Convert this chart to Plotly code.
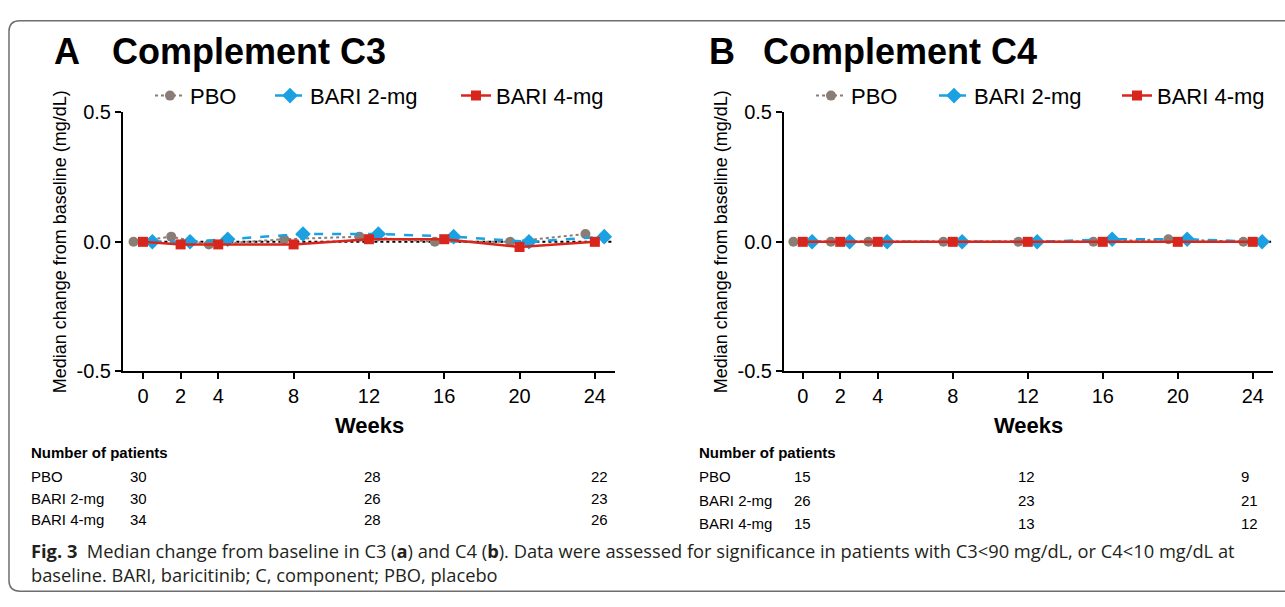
import plotly.graph_objects as go
import numpy as np

# ---------------- data ----------------
weeks = [0, 2, 4, 8, 12, 16, 20, 24]
series_names = ["PBO", "BARI 2-mg", "BARI 4-mg"]

c3_pbo = [0.00, 0.02, -0.01, 0.01, 0.02, 0.00, 0.00, 0.03]
c3_bari2 = [0.00, 0.00, 0.01, 0.03, 0.03, 0.02, 0.00, 0.02]
c3_bari4 = [0.00, -0.01, -0.01, -0.01, 0.01, 0.01, -0.02, 0.00]

c4_pbo = [0.00, 0.00, 0.00, 0.00, 0.00, 0.00, 0.01, 0.00]
c4_bari2 = [0.00, 0.00, 0.00, 0.00, 0.00, 0.01, 0.01, 0.00]
c4_bari4 = [0.00, 0.00, 0.00, 0.00, 0.00, 0.00, 0.00, 0.00]

y_tickvals = [-0.5, 0.0, 0.5]
y_ticktext = ["-0.5", "0.0", "0.5"]

n_weeks = [0, 12, 24]
c3_n = {"PBO": [30, 28, 22], "BARI 2-mg": [30, 26, 23], "BARI 4-mg": [34, 28, 26]}
c4_n = {"PBO": [15, 12, 9], "BARI 2-mg": [26, 23, 21], "BARI 4-mg": [15, 13, 12]}

panel_titles = [("A", "Complement C3"), ("B", "Complement C4")]
y_title = "Median change from baseline (mg/dL)"
x_title = "Weeks"
caption1 = ("<b>Fig. 3</b>  Median change from baseline in C3 (<b>a</b>) and C4 (<b>b</b>). "
            "Data were assessed for significance in patients with C3&lt;90 mg/dL, or C4&lt;10 mg/dL at")
caption2 = "baseline. BARI, baricitinib; C, component; PBO, placebo"

# ---------------- styles / layout ----------------
W, H = 1285, 607
FONT = "Liberation Sans, Arial, sans-serif"
CAP_FONT = "Open Sans, Noto Sans, sans-serif"

styles = {
    "PBO": dict(color="#8a7d75", dash="dot", symbol="circle", size=10, offset=-0.5, lw=2),
    "BARI 2-mg": dict(color="#1ba1e2", dash="dash", symbol="diamond", size=12, offset=0.5, lw=2.5),
    "BARI 4-mg": dict(color="#d9261c", dash="solid", symbol="square", size=10, offset=0.0, lw=2.5),
}

def px_x(p):
    return p / W

def px_y(p):
    return 1 - p / H

fig = go.Figure()

panels = [
    dict(xa="x", ya="y", legends=["legend", "legend2", "legend3"], legend_x=[150, 270, 456],
         data=[c3_pbo, c3_bari2, c3_bari4]),
    dict(xa="x2", ya="y2", legends=["legend4", "legend5", "legend6"], legend_x=[811, 934, 1117],
         data=[c4_pbo, c4_bari2, c4_bari4]),
]

w = np.array(weeks, dtype=float)
legend_layout = {}
for p in panels:
    # zero reference (dotted black)
    fig.add_trace(go.Scatter(
        x=[w.min() + 0.5, w.max() + 1.0], y=[0, 0], mode="lines",
        line=dict(color="black", dash="dot", width=2), showlegend=False,
        hoverinfo="skip", xaxis=p["xa"], yaxis=p["ya"]))
    for name, vals, lg, lx in zip(series_names, p["data"], p["legends"], p["legend_x"]):
        s = styles[name]
        fig.add_trace(go.Scatter(
            x=w + s["offset"], y=vals, name=name, mode="lines+markers",
            line=dict(color=s["color"], dash=s["dash"], width=s["lw"]),
            marker=dict(symbol=s["symbol"], size=s["size"], color=s["color"]),
            cliponaxis=False, legend=lg, xaxis=p["xa"], yaxis=p["ya"]))
        legend_layout[lg] = dict(orientation="h", x=px_x(lx), y=px_y(88), xanchor="left",
                                 yanchor="middle", itemwidth=30, bgcolor="rgba(0,0,0,0)",
                                 font=dict(family=FONT, size=22, color="black"))

axis_common = dict(showgrid=False, zeroline=False, showline=True, linecolor="black",
                   linewidth=2, ticks="outside", ticklen=6, tickwidth=2, tickcolor="black",
                   tickfont=dict(family=FONT, size=20, color="black"))

ydom = [px_y(374), px_y(105)]
fig.update_layout(
    width=W, height=H, margin=dict(l=0, r=0, t=0, b=0),
    paper_bgcolor="white", plot_bgcolor="white",
    font=dict(family=FONT, color="black"),
    xaxis=dict(domain=[px_x(123), px_x(615)], range=[-1.06, 25.07], tickvals=weeks,
               anchor="y", **axis_common),
    yaxis=dict(domain=ydom, range=[-0.5, 0.5], tickvals=y_tickvals, ticktext=y_ticktext,
               anchor="x", **axis_common),
    xaxis2=dict(domain=[px_x(784), px_x(1273)], range=[-1.0, 25.08], tickvals=weeks,
                anchor="y2", **axis_common),
    yaxis2=dict(domain=ydom, range=[-0.5, 0.5], tickvals=y_tickvals, ticktext=y_ticktext,
                anchor="x2", **axis_common),
    **legend_layout,
)

ann = []
# panel titles
title_pos = [(52, 110), (707, 761)]
for (letter, title), (xl, xt) in zip(panel_titles, title_pos):
    ann.append(dict(text=f"<b>{letter}</b>", x=px_x(xl), y=px_y(42), xref="paper", yref="paper",
                    xanchor="left", yanchor="middle", showarrow=False,
                    font=dict(family=FONT, size=36, color="black")))
    ann.append(dict(text=f"<b>{title}</b>", x=px_x(xt), y=px_y(42), xref="paper", yref="paper",
                    xanchor="left", yanchor="middle", showarrow=False,
                    font=dict(family=FONT, size=36, color="black")))

# axis titles
for xc, xcen in [(60, 369), (721, 1028)]:
    ann.append(dict(text=y_title, x=px_x(xc), y=px_y(240), xref="paper", yref="paper",
                    xanchor="center", yanchor="middle", textangle=-90, showarrow=False,
                    font=dict(family=FONT, size=18, color="black")))
    ann.append(dict(text=f"<b>{x_title}</b>", x=px_x(xcen), y=px_y(430), xref="paper", yref="paper",
                    xanchor="center", yanchor="middle", showarrow=False,
                    font=dict(family=FONT, size=22, color="black")))

# number of patients tables (numbers left-aligned near the week columns)
tables = [
    dict(counts=c3_n, xlabel=29, xref="x", rows_y=[483, 506, 528], shifts=[-15, -7, -6]),
    dict(counts=c4_n, xlabel=697, xref="x2", rows_y=[483, 508, 532], shifts=[-11, -12, -14]),
]
for t in tables:
    ann.append(dict(text="<b>Number of patients</b>", x=px_x(t["xlabel"]), y=px_y(458),
                    xref="paper", yref="paper", xanchor="left", yanchor="middle",
                    showarrow=False, font=dict(family=FONT, size=15, color="black")))
    for name, ry in zip(series_names, t["rows_y"]):
        ann.append(dict(text=name, x=px_x(t["xlabel"]), y=px_y(ry), xref="paper", yref="paper",
                        xanchor="left", yanchor="middle", showarrow=False,
                        font=dict(family=FONT, size=15, color="black")))
        for wk, n, sh in zip(n_weeks, t["counts"][name], t["shifts"]):
            ann.append(dict(text=str(n), x=wk, y=px_y(ry), xref=t["xref"], yref="paper",
                            xanchor="left", yanchor="middle", xshift=sh, showarrow=False,
                            font=dict(family=FONT, size=15, color="black")))

# caption (one two-line text)
ann.append(dict(text=caption1 + "<br>" + caption2, x=px_x(29), y=px_y(572.5),
                xref="paper", yref="paper", xanchor="left", yanchor="middle", align="left",
                showarrow=False, font=dict(family=CAP_FONT, size=18.3, color="#231f20")))

fig.update_layout(annotations=ann)

# figure frame (rounded, open to the right)
def P(x, y):
    return f"{px_x(x):.5f},{px_y(y):.5f}"

frame = (f"M {P(1300, 10)} L {P(20, 10)} Q {P(9, 10)} {P(9, 21)} "
         f"L {P(9, 591)} Q {P(9, 602)} {P(20, 602)} L {P(1300, 602)}")
fig.add_shape(type="path", path=frame, xref="paper", yref="paper",
              line=dict(color="#6e6e6e", width=1.5), layer="below")

fig.write_html("out.html", config={"displayModeBar": False},
               post_script="document.body.style.margin='0';document.body.style.padding='0';")
